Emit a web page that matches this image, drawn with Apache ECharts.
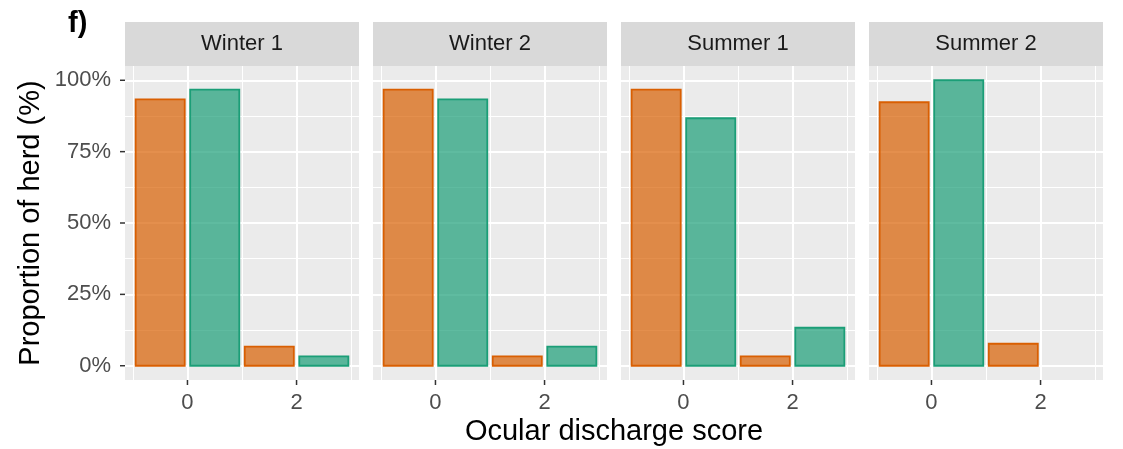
<!DOCTYPE html>
<html>
<head>
<meta charset="utf-8">
<script src="https://cdn.jsdelivr.net/npm/echarts@6/dist/echarts.min.js"></script>
<style>
html,body{margin:0;padding:0;background:#fff;}
#chart{width:1123px;height:449px;}
</style>
</head>
<body>
<div id="chart"></div>
<script>
// ---- data ----
const facets = ['Winter 1', 'Winter 2', 'Summer 1', 'Summer 2'];
const scores = [0, 2];
// proportion of herd (%) per facet, per score [score 0, score 2]
const groupOrange = [[93.3, 6.7], [96.7, 3.3], [96.7, 3.3], [92.3, 7.7]];
const groupGreen  = [[96.7, 3.3], [93.3, 6.7], [86.7, 13.3], [100, null]];
const yTicks = [0, 25, 50, 75, 100];
const yMinor = [12.5, 37.5, 62.5, 87.5];
const xTicks = [0, 2];
const xMinor = [-1, 1, 3];
const panelTitle = 'f)';
const xTitle = 'Ocular discharge score';
const yTitle = 'Proportion of herd (%)';

// ---- style / layout ----
const FONT = '"Liberation Sans", Arial, sans-serif';
const COLORS = ['#D95F02', '#1B9E77'];
const FILLS = ['rgba(217,95,2,0.7)', 'rgba(27,158,119,0.7)'];
const OFFS = [[-0.95, -0.05], [0.05, 0.95]];
const panelLeft0 = 125, panelStep = 248, panelW = 234, panelTop = 66, panelH = 314;
const stripTop = 22, stripH = 44;
const TICK_LEN = 5, TICK_COLOR = '#333333';

const grids = [], xAxes = [], yAxes = [], series = [], graphics = [];

facets.forEach((name, i) => {
  const left = panelLeft0 + i * panelStep;
  grids.push({left: left, top: panelTop, width: panelW, height: panelH,
    show: true, backgroundColor: '#EBEBEB', borderWidth: 0});
  xAxes.push({type: 'value', gridIndex: i, min: -1.145, max: 3.145,
    axisLine: {show: false}, splitLine: {show: false},
    axisTick: {show: false},
    axisLabel: {show: true, customValues: xTicks, margin: 12, fontFamily: FONT, fontSize: 22, color: '#4D4D4D'}});
  yAxes.push({type: 'value', gridIndex: i, min: -5, max: 105,
    axisLine: {show: false}, splitLine: {show: false},
    axisTick: {show: false},
    axisLabel: {show: i === 0, customValues: yTicks, margin: 14, fontFamily: FONT, fontSize: 22, color: '#4D4D4D',
      formatter: v => v + '%'}});

  // gridlines via markLine
  const ml = [];
  yMinor.forEach(v => ml.push({yAxis: v, lineStyle: {color: '#fff', width: 1, type: 'solid'}}));
  xMinor.forEach(v => ml.push({xAxis: v, lineStyle: {color: '#fff', width: 1, type: 'solid'}}));
  yTicks.forEach(v => ml.push({yAxis: v, lineStyle: {color: '#fff', width: 2, type: 'solid'}}));
  xTicks.forEach(v => ml.push({xAxis: v, lineStyle: {color: '#fff', width: 2, type: 'solid'}}));
  series.push({type: 'line', xAxisIndex: i, yAxisIndex: i, data: [], z: 1, silent: true,
    markLine: {silent: true, symbol: ['none', 'none'], label: {show: false}, animation: false, data: ml}});

  [groupOrange, groupGreen].forEach((grp, g) => {
    const data = [];
    scores.forEach((s, k) => { if (grp[i][k] != null) data.push([s, grp[i][k]]); });
    series.push({type: 'custom', xAxisIndex: i, yAxisIndex: i, z: 5, data: data,
      renderItem: (params, api) => {
        const s = api.value(0), v = api.value(1);
        const p0 = api.coord([s + OFFS[g][0], v]);
        const p1 = api.coord([s + OFFS[g][1], 0]);
        return {type: 'rect',
          shape: {x: p0[0], y: p0[1], width: p1[0] - p0[0], height: p1[1] - p0[1]},
          style: {fill: FILLS[g], stroke: COLORS[g], lineWidth: 1.8}};
      }});
  });

  // facet strip
  graphics.push({type: 'rect', left: left, top: stripTop, z: 0,
    shape: {width: panelW, height: stripH}, style: {fill: '#D9D9D9'}});
  graphics.push({type: 'text', x: left + panelW / 2, y: stripTop + stripH / 2, z: 1,
    style: {text: name, fontFamily: FONT, fontSize: 22, fill: '#1A1A1A', textAlign: 'center', textVerticalAlign: 'middle'}});
});

graphics.push({type: 'text', x: 68, y: 24,
  style: {text: panelTitle, fontFamily: FONT, fontSize: 29, fontWeight: 'bold', fill: '#000', textAlign: 'left', textVerticalAlign: 'middle'}});
graphics.push({type: 'text', x: 614, y: 432,
  style: {text: xTitle, fontFamily: FONT, fontSize: 29, fill: '#000', textAlign: 'center', textVerticalAlign: 'middle'}});
graphics.push({type: 'text', x: 31, y: 223, rotation: Math.PI / 2,
  style: {text: yTitle, fontFamily: FONT, fontSize: 29, fill: '#000', textAlign: 'center', textVerticalAlign: 'middle'}});

const chart = echarts.init(document.getElementById('chart'), null, {renderer: 'canvas'});
chart.setOption({
  animation: false,
  backgroundColor: '#ffffff',
  grid: grids, xAxis: xAxes, yAxis: yAxes, series: series, graphic: graphics
});

// axis ticks placed through the library's own scales
const tickGraphics = [];
facets.forEach((name, i) => {
  xTicks.forEach(v => {
    const p = chart.convertToPixel({xAxisIndex: i, yAxisIndex: i}, [v, -5]);
    tickGraphics.push({type: 'line', z: 10,
      shape: {x1: p[0], y1: p[1], x2: p[0], y2: p[1] + TICK_LEN},
      style: {stroke: TICK_COLOR, lineWidth: 1.5}});
  });
  if (i === 0) {
    yTicks.forEach(v => {
      const p = chart.convertToPixel({xAxisIndex: i, yAxisIndex: i}, [-1.145, v]);
      tickGraphics.push({type: 'line', z: 10,
        shape: {x1: p[0] - TICK_LEN, y1: p[1], x2: p[0], y2: p[1]},
        style: {stroke: TICK_COLOR, lineWidth: 1.5}});
    });
  }
});
chart.setOption({graphic: graphics.concat(tickGraphics)});
</script>
</body>
</html>
